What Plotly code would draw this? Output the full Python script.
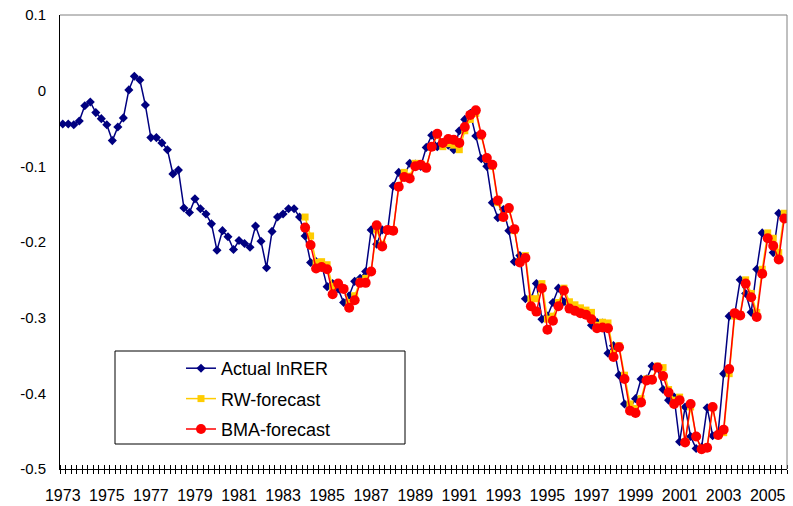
import plotly.graph_objects as go

# ---------------- data ----------------
start_year = 1973
actual_lnrer = [
    -0.044, -0.044, -0.045, -0.040, -0.020, -0.015, -0.029, -0.037, -0.045, -0.066,
    -0.048, -0.036, 0.001, 0.019, 0.014, -0.019, -0.062, -0.062, -0.069, -0.078,
    -0.110, -0.105, -0.155, -0.161, -0.143, -0.156, -0.163, -0.176, -0.211, -0.185,
    -0.193, -0.210, -0.198, -0.202, -0.207, -0.179, -0.199, -0.234, -0.186, -0.167,
    -0.163, -0.156, -0.156, -0.167, -0.192, -0.227, -0.226, -0.230, -0.259, -0.255,
    -0.262, -0.280, -0.271, -0.252, -0.248, -0.239, -0.184, -0.203, -0.184, -0.184,
    -0.126, -0.108, -0.113, -0.096, -0.097, -0.100, -0.075, -0.059, -0.074, -0.070,
    -0.072, -0.078, -0.053, -0.038, -0.030, -0.060, -0.090, -0.100, -0.148, -0.168,
    -0.157, -0.185, -0.226, -0.218, -0.275, -0.275, -0.255, -0.302, -0.298, -0.280,
    -0.261, -0.279, -0.283, -0.287, -0.290, -0.293, -0.310, -0.306, -0.307, -0.347,
    -0.337, -0.376, -0.414, -0.420, -0.407, -0.381, -0.381, -0.364, -0.366, -0.395,
    -0.409, -0.405, -0.464, -0.418, -0.457, -0.473, -0.471, -0.419, -0.456, -0.452,
    -0.374, -0.298, -0.296, -0.250, -0.268, -0.293, -0.236, -0.188, -0.195, -0.214,
    -0.162,
]

forecast_start = "1984Q1"
rw_forecast = [
    -0.167, -0.192, -0.227, -0.226, -0.230, -0.259, -0.255, -0.262, -0.280, -0.271,
    -0.252, -0.248, -0.239, -0.184, -0.203, -0.184, -0.184, -0.126, -0.108, -0.113,
    -0.096, -0.097, -0.100, -0.075, -0.059, -0.074, -0.070, -0.072, -0.078, -0.053,
    -0.038, -0.030, -0.060, -0.090, -0.100, -0.148, -0.168, -0.157, -0.185, -0.226,
    -0.218, -0.275, -0.275, -0.255, -0.302, -0.298, -0.280, -0.261, -0.279, -0.283,
    -0.287, -0.290, -0.293, -0.310, -0.306, -0.307, -0.347, -0.337, -0.376, -0.414,
    -0.420, -0.407, -0.381, -0.381, -0.364, -0.366, -0.395, -0.409, -0.405, -0.464,
    -0.418, -0.457, -0.473, -0.471, -0.419, -0.456, -0.452, -0.374, -0.298, -0.296,
    -0.250, -0.268, -0.293, -0.236, -0.188, -0.195, -0.214, -0.162,
]
bma_forecast = [
    -0.181, -0.204, -0.235, -0.233, -0.236, -0.269, -0.255, -0.262, -0.287, -0.277,
    -0.254, -0.254, -0.239, -0.178, -0.206, -0.184, -0.185, -0.127, -0.114, -0.116,
    -0.100, -0.098, -0.102, -0.074, -0.057, -0.069, -0.064, -0.065, -0.069, -0.048,
    -0.032, -0.026, -0.058, -0.089, -0.098, -0.145, -0.167, -0.155, -0.183, -0.227,
    -0.221, -0.285, -0.292, -0.261, -0.316, -0.304, -0.285, -0.264, -0.288, -0.291,
    -0.294, -0.296, -0.302, -0.314, -0.313, -0.314, -0.352, -0.339, -0.381, -0.423,
    -0.426, -0.412, -0.383, -0.382, -0.366, -0.377, -0.399, -0.414, -0.409, -0.465,
    -0.414, -0.457, -0.474, -0.472, -0.418, -0.455, -0.448, -0.368, -0.294, -0.297,
    -0.255, -0.273, -0.299, -0.242, -0.195, -0.205, -0.223, -0.169,
]

year_labels = [str(y) for y in range(1973, 2006, 2)]
y_tick_values = [0.1, 0.0, -0.1, -0.2, -0.3, -0.4, -0.5]
y_tick_labels = ["0.1", "0", "-0.1", "-0.2", "-0.3", "-0.4", "-0.5"]

# ---------------- periods ----------------
n_periods = len(bma_forecast) + 44  # 1973Q1 .. 2005Q4
periods = [f"{start_year + i // 4}Q{i % 4 + 1}" for i in range(n_periods)]


def period_to_x(p):
    y, q = p.split("Q")
    return int(y) + (int(q) - 1) / 4.0


x_all = [period_to_x(p) for p in periods]
fidx = periods.index(forecast_start)
x_actual = x_all[:len(actual_lnrer)]
x_fore = x_all[fidx:fidx + len(rw_forecast)]

FONT = "Arial, Liberation Sans, sans-serif"

fig = go.Figure()
fig.add_trace(go.Scatter(
    x=x_actual, y=actual_lnrer, name="Actual lnRER", mode="lines+markers",
    line=dict(color="#000080", width=1.5),
    marker=dict(symbol="diamond", size=7, color="#000080", line=dict(width=0)),
    legendgroup="a",
))
fig.add_trace(go.Scatter(
    x=x_fore, y=rw_forecast, name="RW-forecast", mode="lines+markers",
    line=dict(color="#FFCC00", width=1.5),
    marker=dict(symbol="square", size=7, color="#FFCC00", line=dict(width=0)),
    legendgroup="b",
))
fig.add_trace(go.Scatter(
    x=x_fore, y=bma_forecast, name="BMA-forecast", mode="lines+markers",
    line=dict(color="#FF0000", width=1.5),
    marker=dict(symbol="circle", size=10, color="#FF0000", line=dict(width=0)),
    legendgroup="c",
))
# invisible helper trace for the secondary (tick) axis
fig.add_trace(go.Scatter(x=[x_all[0]], y=[0], xaxis="x2", mode="markers",
                         marker=dict(opacity=0), showlegend=False, hoverinfo="skip"))

x_lo = x_all[0] - 0.125
x_hi = x_all[-1] + 0.125

W, H = 793, 506
ML, MR, MT, MB = 60, 6, 15, 37
pw, ph = W - ML - MR, H - MT - MB


def px_to_paper(px, py):
    return (px - ML) / pw, 1 - (py - MT) / ph


lx0, ly0 = px_to_paper(115, 351)
lx1, ly1 = px_to_paper(405, 444)
legx, legy = px_to_paper(181, 350)

fig.update_layout(
    width=W, height=H,
    margin=dict(l=ML, r=MR, t=MT, b=MB, autoexpand=False),
    paper_bgcolor="white", plot_bgcolor="white",
    font=dict(family=FONT, size=15, color="black"),
    showlegend=True,
    legend=dict(x=legx, y=legy, xanchor="left", yanchor="top",
                bgcolor="rgba(0,0,0,0)", borderwidth=0,
                font=dict(family=FONT, size=18, color="black"),
                tracegroupgap=4, itemwidth=30),
    xaxis=dict(
        range=[x_lo, x_hi], showgrid=False, zeroline=False, automargin=False,
        showline=True, linecolor="black", linewidth=1,
        tickmode="array", tickvals=[int(t) for t in year_labels], ticktext=year_labels,
        ticks="", ticklabelstandoff=12,
        tickfont=dict(family=FONT, size=16),
        minor=dict(ticks="outside", tick0=x_lo, dtick=0.25, ticklen=4,
                   tickcolor="black", tickwidth=1, showgrid=False),
    ),
    xaxis2=dict(
        range=[x_lo, x_hi], overlaying="x", anchor="y", side="bottom", automargin=False,
        showgrid=False, zeroline=False, showline=False, showticklabels=False,
        ticks="", minor=dict(ticks="inside", tick0=x_lo, dtick=0.25, ticklen=4,
                             tickcolor="black", tickwidth=1, showgrid=False),
    ),
    yaxis=dict(
        range=[-0.5, 0.1], showgrid=False, zeroline=False, automargin=False,
        showline=True, linecolor="black", linewidth=1,
        tickmode="array", tickvals=y_tick_values, ticktext=y_tick_labels,
        ticks="", ticklabelstandoff=10,
        tickfont=dict(family=FONT, size=15),
    ),
    shapes=[
        dict(type="line", xref="paper", yref="paper", x0=0, x1=1, y0=1, y1=1,
             line=dict(color="#808080", width=1)),
        dict(type="line", xref="paper", yref="paper", x0=1, x1=1, y0=0, y1=1,
             line=dict(color="#808080", width=1)),
        dict(type="rect", xref="paper", yref="paper", x0=lx0, x1=lx1, y0=ly1, y1=ly0,
             line=dict(color="black", width=1), fillcolor="white", layer="below"),
    ],
)

fig.write_html("out.html", config={"displayModeBar": False},
               post_script="document.body.style.margin='0';")
